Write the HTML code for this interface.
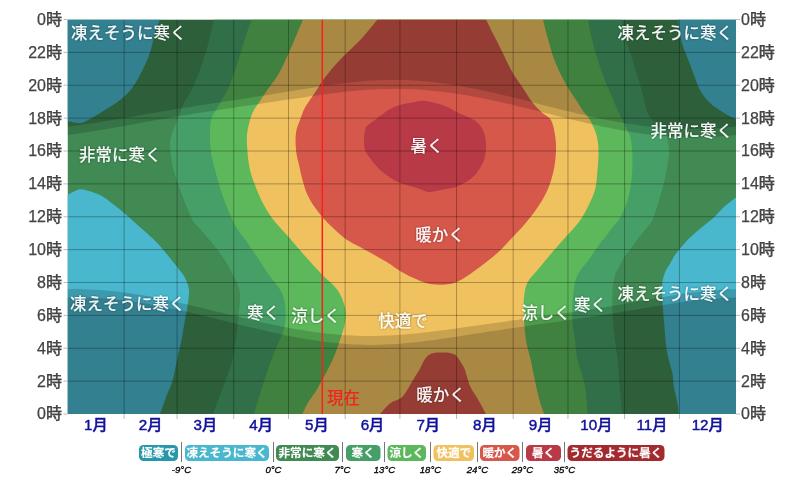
<!DOCTYPE html>
<html lang="ja"><head><meta charset="utf-8"><title>平均時間別気温</title>
<style>html,body{margin:0;padding:0;background:#fff}body{width:800px;height:481px;overflow:hidden}svg{display:block}</style>
</head><body>
<svg width="800" height="481" viewBox="0 0 800 481">
<defs><clipPath id="cp"><rect x="67.5" y="19.5" width="668.5" height="394.5"/></clipPath><filter id="sh" x="-10%" y="-30%" width="120%" height="160%"><feDropShadow dx="0" dy="0" stdDeviation="0.9" flood-color="#000" flood-opacity="0.45"/></filter></defs>
<g clip-path="url(#cp)">
<rect x="67.5" y="19.5" width="668.5" height="394.5" fill="#418a54"/>
<path d="M160.0 19.5C159.2 21.7 156.7 27.0 155.0 32.5C153.3 38.0 152.1 46.2 150.0 52.5C147.9 58.8 145.4 64.2 142.5 70.0C139.6 75.8 136.2 82.5 132.5 87.5C128.8 92.5 124.6 96.2 120.0 100.0C115.4 103.8 109.6 107.1 105.0 110.0C100.4 112.9 96.5 115.3 92.5 117.5C88.5 119.7 85.2 122.4 81.0 123.0C76.8 123.6 69.8 121.3 67.5 121.0L67.5 19.5Z" fill="#49b7cd"/>
<path d="M67.5 195.0C68.8 194.3 72.5 191.9 75.0 191.0C77.5 190.1 78.3 188.8 82.5 189.5C86.7 190.2 95.0 192.6 100.0 195.0C105.0 197.4 108.3 200.6 112.5 203.8C116.7 206.9 120.8 210.2 125.0 213.8C129.2 217.3 133.3 221.3 137.5 225.0C141.7 228.7 146.2 232.5 150.0 236.0C153.8 239.5 156.7 242.3 160.0 246.0C163.3 249.7 167.0 254.3 170.0 258.0C173.0 261.7 175.5 264.7 178.0 268.0C180.5 271.3 183.2 274.3 185.0 278.0C186.8 281.7 188.6 285.3 189.0 290.0C189.4 294.7 188.2 300.6 187.5 306.0C186.8 311.4 185.5 316.8 184.5 322.5C183.5 328.2 182.8 333.8 181.5 340.0C180.2 346.2 178.5 353.2 177.0 360.0C175.5 366.8 174.1 375.4 172.5 381.0C170.9 386.6 169.6 388.0 167.5 393.5C165.4 399.0 161.2 410.6 160.0 414.0L67.5 414.0Z" fill="#49b7cd"/>
<path d="M678.0 19.5C678.7 23.4 680.3 36.4 682.0 43.0C683.7 49.6 686.0 53.7 688.0 59.0C690.0 64.3 692.0 69.8 694.0 75.0C696.0 80.2 697.3 85.3 700.0 90.0C702.7 94.7 705.8 99.1 710.0 103.0C714.2 106.9 720.7 110.8 725.0 113.5C729.3 116.2 734.2 118.1 736.0 119.0L736.0 19.5Z" fill="#49b7cd"/>
<path d="M736.0 197.5C734.2 198.9 728.9 202.5 725.0 206.0C721.1 209.5 716.7 215.0 712.5 218.8C708.3 222.5 704.2 225.2 700.0 228.8C695.8 232.3 690.8 236.7 687.5 240.0C684.2 243.3 682.1 246.2 680.0 248.8C677.9 251.2 676.7 252.5 675.0 255.0C673.3 257.5 671.7 260.8 670.0 263.8C668.3 266.7 666.2 269.6 665.0 272.5C663.8 275.4 663.0 278.1 662.5 281.0C662.0 283.9 662.0 286.4 662.0 290.0C662.0 293.6 662.1 296.2 662.5 302.5C662.9 308.8 663.9 320.4 664.5 327.5C665.1 334.6 665.3 339.6 666.0 345.0C666.7 350.4 667.7 355.2 668.8 360.0C669.8 364.8 671.7 369.2 672.5 373.5C673.3 377.8 672.9 381.0 673.8 386.0C674.6 391.0 676.7 398.8 677.5 403.5C678.3 408.2 678.5 412.2 678.8 414.0L736.0 414.0Z" fill="#49b7cd"/>
<path d="M214.0 19.5C213.0 23.8 210.2 37.1 208.0 45.0C205.8 52.9 203.5 60.0 201.0 67.0C198.5 74.0 195.8 81.0 193.0 87.0C190.2 93.0 186.2 98.7 184.0 103.0C181.8 107.3 181.9 108.1 180.0 113.0C178.1 117.9 174.2 127.2 172.5 132.5C170.8 137.8 170.0 139.6 170.0 145.0C170.0 150.4 171.2 158.8 172.5 165.0C173.8 171.2 175.4 176.2 177.5 182.5C179.6 188.8 182.5 196.2 185.0 202.5C187.5 208.8 190.0 215.6 192.5 220.0C195.0 224.4 197.1 225.6 200.0 229.0C202.9 232.4 207.0 236.9 210.0 240.5C213.0 244.1 215.3 246.9 218.0 250.5C220.7 254.1 223.7 258.2 226.0 262.0C228.3 265.8 230.1 269.3 232.0 273.0C233.9 276.7 236.2 280.5 237.5 284.0C238.8 287.5 239.7 290.3 240.0 294.0C240.3 297.7 239.9 300.7 239.5 306.0C239.1 311.3 238.2 319.5 237.5 326.0C236.8 332.5 235.9 339.0 235.0 345.0C234.1 351.0 234.2 354.5 232.0 362.0C229.8 369.5 225.2 381.3 222.0 390.0C218.8 398.7 214.5 410.0 213.0 414.0L622.0 414.0C621.7 410.0 620.8 399.0 620.0 390.0C619.2 381.0 618.3 368.3 617.5 360.0C616.7 351.7 615.8 347.5 615.0 340.0C614.2 332.5 612.9 323.3 612.5 315.0C612.1 306.7 612.2 295.8 612.5 290.0C612.8 284.2 613.4 282.9 614.0 280.0C614.6 277.1 615.0 275.0 616.0 272.5C617.0 270.0 618.5 267.8 620.0 265.0C621.5 262.2 623.3 258.5 625.0 256.0C626.7 253.5 628.3 252.2 630.0 250.0C631.7 247.8 633.3 244.8 635.0 242.5C636.7 240.2 638.3 238.1 640.0 236.0C641.7 233.9 642.9 232.7 645.0 230.0C647.1 227.3 650.2 225.0 652.5 220.0C654.8 215.0 657.1 206.2 659.0 200.0C660.9 193.8 662.6 188.3 664.0 182.5C665.4 176.7 666.7 170.4 667.5 165.0C668.3 159.6 669.4 155.4 669.0 150.0C668.6 144.6 667.8 137.5 665.0 132.5C662.2 127.5 655.5 123.6 652.5 120.0C649.5 116.4 648.8 115.8 647.0 111.0C645.2 106.2 643.7 97.0 642.0 91.0C640.3 85.0 638.8 81.0 637.0 75.0C635.2 69.0 632.8 60.7 631.0 55.0C629.2 49.3 627.5 46.9 626.0 41.0C624.5 35.1 622.7 23.1 622.0 19.5Z" fill="#469f66"/>
<path d="M252.0 19.5C251.0 22.1 248.0 29.1 246.0 35.0C244.0 40.9 242.0 48.7 240.0 55.0C238.0 61.3 236.0 67.3 234.0 73.0C232.0 78.7 230.3 84.0 228.0 89.0C225.7 94.0 222.0 99.5 220.0 103.0C218.0 106.5 217.5 107.2 216.0 110.0C214.5 112.8 212.0 115.8 211.0 120.0C210.0 124.2 210.0 129.6 210.0 135.0C210.0 140.4 210.2 146.7 211.0 152.5C211.8 158.3 213.5 164.2 215.0 170.0C216.5 175.8 218.2 181.7 220.0 187.5C221.8 193.3 223.9 199.6 226.0 205.0C228.1 210.4 230.5 215.8 232.5 220.0C234.5 224.2 235.8 226.7 238.0 230.0C240.2 233.3 243.0 236.5 245.5 240.0C248.0 243.5 250.4 247.2 253.0 251.0C255.6 254.8 258.3 259.0 261.0 263.0C263.7 267.0 266.0 270.8 269.0 275.0C272.0 279.2 276.6 284.3 279.0 288.0C281.4 291.7 282.4 293.3 283.5 297.0C284.6 300.7 285.3 304.9 285.5 310.0C285.7 315.1 285.8 321.7 284.5 327.5C283.2 333.3 279.8 339.4 277.5 345.0C275.2 350.6 273.5 354.2 271.0 361.0C268.5 367.8 265.3 377.2 262.5 386.0C259.7 394.8 255.4 409.3 254.0 414.0L587.5 414.0C587.1 409.3 586.7 395.0 585.0 386.0C583.3 377.0 579.2 367.7 577.5 360.0C575.8 352.3 575.8 346.2 575.0 340.0C574.2 333.8 572.9 328.8 572.5 322.5C572.1 316.2 572.1 309.2 572.5 302.5C572.9 295.8 573.8 287.8 575.0 282.5C576.2 277.2 578.5 273.8 580.0 271.0C581.5 268.2 582.3 267.8 583.8 266.0C585.2 264.2 587.1 262.2 588.8 260.0C590.4 257.8 592.1 255.0 593.8 252.5C595.4 250.0 596.9 247.5 598.8 245.0C600.6 242.5 602.8 240.3 605.0 237.5C607.2 234.7 609.5 231.2 612.0 228.0C614.5 224.8 617.7 221.8 620.0 218.0C622.3 214.2 624.3 209.7 626.0 205.0C627.7 200.3 629.0 195.0 630.0 190.0C631.0 185.0 631.6 180.4 632.0 175.0C632.4 169.6 632.7 163.3 632.5 157.5C632.3 151.7 632.2 145.4 631.0 140.0C629.8 134.6 627.2 129.8 625.0 125.0C622.8 120.2 620.2 115.7 618.0 111.0C615.8 106.3 614.0 101.7 612.0 97.0C610.0 92.3 608.0 88.0 606.0 83.0C604.0 78.0 601.8 72.3 600.0 67.0C598.2 61.7 596.5 56.3 595.0 51.0C593.5 45.7 592.2 40.2 591.0 35.0C589.8 29.8 588.5 22.1 588.0 19.5Z" fill="#5cb85b"/>
<path d="M303.0 19.5C301.5 23.1 296.8 34.4 294.0 41.0C291.2 47.6 288.7 53.3 286.0 59.0C283.3 64.7 281.0 70.0 278.0 75.0C275.0 80.0 271.0 84.7 268.0 89.0C265.0 93.3 262.3 97.5 260.0 101.0C257.7 104.5 255.7 106.8 254.0 110.0C252.3 113.2 251.2 115.8 250.0 120.0C248.8 124.2 247.4 129.6 247.0 135.0C246.6 140.4 247.0 146.7 247.5 152.5C248.0 158.3 248.8 164.6 250.0 170.0C251.2 175.4 252.9 179.6 255.0 185.0C257.1 190.4 259.4 196.7 262.5 202.5C265.6 208.3 268.9 214.0 273.5 220.0C278.1 226.0 284.8 232.5 290.0 238.5C295.2 244.5 299.6 249.9 305.0 256.0C310.4 262.1 317.1 269.3 322.5 275.0C327.9 280.7 333.8 284.6 337.5 290.0C341.2 295.4 343.8 302.1 345.0 307.5C346.2 312.9 345.8 317.1 345.0 322.5C344.2 327.9 342.1 333.8 340.0 340.0C337.9 346.2 336.2 351.9 332.5 360.0C328.8 368.1 321.7 381.2 317.5 388.5C313.3 395.8 310.0 399.2 307.5 403.5C305.0 407.8 303.3 412.2 302.5 414.0L544.0 414.0C543.2 411.4 540.5 404.0 539.0 398.5C537.5 393.0 536.3 387.2 535.0 381.0C533.7 374.8 532.2 366.6 531.0 361.0C529.8 355.4 528.5 352.2 527.5 347.5C526.5 342.8 525.6 337.9 525.0 332.5C524.4 327.1 524.2 320.8 524.0 315.0C523.8 309.2 523.4 302.9 524.0 297.5C524.6 292.1 525.2 287.1 527.5 282.5C529.8 277.9 533.8 274.6 537.5 270.0C541.2 265.4 545.8 260.0 550.0 255.0C554.2 250.0 558.2 245.4 563.0 240.0C567.8 234.6 574.4 227.9 578.5 222.5C582.6 217.1 584.8 212.9 587.5 207.5C590.2 202.1 593.3 196.2 595.0 190.0C596.7 183.8 596.9 176.7 597.5 170.0C598.1 163.3 598.7 155.8 598.5 150.0C598.3 144.2 597.9 140.0 596.5 135.0C595.1 130.0 592.2 124.0 590.0 120.0C587.8 116.0 585.0 113.8 583.0 111.0C581.0 108.2 580.2 106.3 578.0 103.0C575.8 99.7 572.7 95.3 570.0 91.0C567.3 86.7 564.7 82.3 562.0 77.0C559.3 71.7 556.3 65.3 554.0 59.0C551.7 52.7 549.8 45.6 548.0 39.0C546.2 32.4 543.8 22.8 543.0 19.5Z" fill="#f0c25f"/>
<path d="M377.5 19.5C375.0 22.5 367.1 32.4 362.5 37.5C357.9 42.6 354.2 45.8 350.0 50.0C345.8 54.2 341.7 57.9 337.5 62.5C333.3 67.1 328.8 72.5 325.0 77.5C321.2 82.5 318.3 87.5 315.0 92.5C311.7 97.5 307.5 102.9 305.0 107.5C302.5 112.1 301.5 115.8 300.0 120.0C298.5 124.2 296.7 127.5 296.0 132.5C295.3 137.5 295.5 144.6 296.0 150.0C296.5 155.4 297.9 160.0 299.0 165.0C300.1 170.0 301.1 175.0 302.5 180.0C303.9 185.0 305.4 190.4 307.5 195.0C309.6 199.6 312.1 203.3 315.0 207.5C317.9 211.7 321.0 215.7 325.0 220.0C329.0 224.3 335.0 230.0 339.0 233.5C343.0 237.0 343.8 237.8 349.0 241.0C354.2 244.2 363.6 248.9 370.0 252.5C376.4 256.1 382.5 259.4 387.5 262.5C392.5 265.6 395.8 268.5 400.0 271.0C404.2 273.5 407.5 275.3 412.5 277.5C417.5 279.7 423.8 282.9 430.0 284.0C436.2 285.1 444.2 285.1 450.0 284.0C455.8 282.9 459.6 280.7 465.0 277.5C470.4 274.3 476.9 269.2 482.5 265.0C488.1 260.8 493.9 256.2 498.5 252.0C503.1 247.8 505.8 244.5 510.0 240.0C514.2 235.5 519.4 230.4 524.0 225.0C528.6 219.6 533.6 213.3 537.5 207.5C541.4 201.7 544.8 196.2 547.5 190.0C550.2 183.8 552.3 176.7 553.8 170.0C555.2 163.3 555.8 155.8 556.0 150.0C556.2 144.2 555.8 140.0 555.0 135.0C554.2 130.0 553.1 123.7 551.0 120.0C548.9 116.3 545.6 115.9 542.5 113.0C539.4 110.1 535.8 106.8 532.5 102.5C529.2 98.2 525.8 92.5 522.5 87.5C519.2 82.5 515.8 78.3 512.5 72.5C509.2 66.7 505.4 58.3 502.5 52.5C499.6 46.7 497.8 43.0 495.0 37.5C492.2 32.0 487.5 22.5 486.0 19.5Z" fill="#d5584a"/>
<path d="M380.0 414.0C381.7 412.2 386.7 406.1 390.0 403.5C393.3 400.9 397.5 400.2 400.0 398.5C402.5 396.8 402.9 396.4 405.0 393.5C407.1 390.6 410.0 385.2 412.5 381.0C415.0 376.8 417.9 372.2 420.0 368.5C422.1 364.8 423.2 361.5 425.0 359.0C426.8 356.5 428.5 354.8 431.0 353.8C433.5 352.7 436.8 352.6 440.0 352.5C443.2 352.4 447.3 352.5 450.0 353.0C452.7 353.5 454.2 354.0 456.0 355.6C457.8 357.2 459.5 360.1 461.0 362.5C462.5 364.9 463.5 366.1 465.0 370.0C466.5 373.9 467.9 381.2 470.0 386.0C472.1 390.8 474.8 393.8 477.5 398.5C480.2 403.2 484.6 411.4 486.0 414.0Z" fill="#d5584a"/>
<path d="M375.0 120.0C372.7 121.9 367.8 124.2 366.0 127.5C364.2 130.8 364.2 136.2 364.0 140.0C363.8 143.8 364.0 147.0 365.0 150.0C366.0 153.0 367.8 155.0 370.0 158.0C372.2 161.0 375.0 165.0 378.0 168.0C381.0 171.0 384.7 173.7 388.0 176.0C391.3 178.3 394.3 180.3 398.0 182.0C401.7 183.7 406.3 184.8 410.0 186.0C413.7 187.2 417.0 188.0 420.0 189.0C423.0 190.0 425.3 191.7 428.0 192.0C430.7 192.3 433.0 191.5 436.0 191.0C439.0 190.5 442.7 189.7 446.0 189.0C449.3 188.3 452.7 188.2 456.0 187.0C459.3 185.8 463.0 183.8 466.0 182.0C469.0 180.2 471.7 178.3 474.0 176.0C476.3 173.7 478.3 170.7 480.0 168.0C481.7 165.3 483.0 163.0 484.0 160.0C485.0 157.0 485.7 152.8 486.0 150.0C486.3 147.2 486.3 145.9 486.0 143.0C485.7 140.1 485.4 135.9 484.0 132.5C482.6 129.1 479.8 124.9 477.5 122.5C475.2 120.1 473.3 119.7 470.0 118.0C466.7 116.3 461.7 114.5 457.5 112.5C453.3 110.5 450.4 107.9 445.0 106.0C439.6 104.1 430.4 101.6 425.0 101.0C419.6 100.4 416.7 101.8 412.5 102.5C408.3 103.2 403.8 103.9 400.0 105.0C396.2 106.1 393.3 107.2 390.0 109.0C386.7 110.8 382.5 114.2 380.0 116.0C377.5 117.8 377.3 118.1 375.0 120.0Z" fill="#b93a47"/>
<polygon points="67.5,19.5 67.5,134.9 73.0,134.2 78.5,133.5 83.9,132.7 89.4,131.9 94.9,131.0 100.4,130.1 105.9,129.2 111.3,128.2 116.8,127.2 122.3,126.2 127.8,125.2 133.3,124.2 138.7,123.2 144.2,122.2 149.7,121.2 155.2,120.2 160.7,119.3 166.1,118.3 171.6,117.4 177.1,116.5 182.6,115.6 188.0,114.7 193.5,113.8 199.0,112.9 204.5,112.1 210.0,111.2 215.4,110.4 220.9,109.6 226.4,108.8 231.9,108.0 237.4,107.1 242.8,106.3 248.3,105.5 253.8,104.7 259.3,103.9 264.8,103.1 270.2,102.3 275.7,101.5 281.2,100.6 286.7,99.8 292.2,99.0 297.6,98.2 303.1,97.4 308.6,96.6 314.1,95.8 319.6,95.0 325.0,94.3 330.5,93.6 336.0,92.9 341.5,92.2 347.0,91.6 352.4,91.1 357.9,90.6 363.4,90.1 368.9,89.7 374.4,89.4 379.8,89.1 385.3,89.0 390.8,88.9 396.3,88.8 401.8,88.9 407.2,89.0 412.7,89.2 418.2,89.5 423.7,89.9 429.1,90.4 434.6,90.9 440.1,91.5 445.6,92.2 451.1,92.9 456.5,93.7 462.0,94.6 467.5,95.5 473.0,96.5 478.5,97.5 483.9,98.6 489.4,99.7 494.9,100.9 500.4,102.1 505.9,103.4 511.3,104.6 516.8,105.9 522.3,107.3 527.8,108.6 533.3,110.0 538.7,111.3 544.2,112.7 549.7,114.1 555.2,115.4 560.7,116.8 566.1,118.2 571.6,119.5 577.1,120.8 582.6,122.1 588.1,123.4 593.5,124.6 599.0,125.8 604.5,127.0 610.0,128.1 615.5,129.2 620.9,130.2 626.4,131.2 631.9,132.1 637.4,132.9 642.8,133.7 648.3,134.4 653.8,135.1 659.3,135.6 664.8,136.1 670.2,136.6 675.7,136.9 681.2,137.1 686.7,137.3 692.2,137.4 697.6,137.3 703.1,137.2 708.6,137.0 714.1,136.8 719.6,136.4 725.0,136.0 730.5,135.4 736.0,134.9 736.0,19.5" fill="#000" fill-opacity="0.160"/>
<polygon points="67.5,414.0 67.5,289.2 73.0,289.1 78.5,289.1 83.9,289.2 89.4,289.4 94.9,289.7 100.4,290.1 105.9,290.5 111.3,291.0 116.8,291.6 122.3,292.3 127.8,293.0 133.3,293.8 138.7,294.7 144.2,295.6 149.7,296.6 155.2,297.6 160.7,298.7 166.1,299.8 171.6,301.0 177.1,302.2 182.6,303.4 188.0,304.6 193.5,305.9 199.0,307.2 204.5,308.5 210.0,309.9 215.4,311.2 220.9,312.5 226.4,313.9 231.9,315.2 237.4,316.5 242.8,317.9 248.3,319.1 253.8,320.4 259.3,321.7 264.8,322.9 270.2,324.1 275.7,325.2 281.2,326.4 286.7,327.4 292.2,328.4 297.6,329.4 303.1,330.3 308.6,331.2 314.1,332.0 319.6,332.7 325.0,333.4 330.5,333.9 336.0,334.5 341.5,334.9 347.0,335.3 352.4,335.5 357.9,335.8 363.4,335.9 368.9,335.9 374.4,335.9 379.8,335.8 385.3,335.6 390.8,335.4 396.3,335.0 401.8,334.7 407.2,334.2 412.7,333.7 418.2,333.2 423.7,332.6 429.1,331.9 434.6,331.3 440.1,330.6 445.6,329.9 451.1,329.1 456.5,328.4 462.0,327.6 467.5,326.8 473.0,326.0 478.5,325.3 483.9,324.5 489.4,323.7 494.9,322.9 500.4,322.2 505.9,321.4 511.3,320.6 516.8,319.9 522.3,319.1 527.8,318.4 533.3,317.6 538.7,316.9 544.2,316.1 549.7,315.4 555.2,314.6 560.7,313.8 566.1,313.1 571.6,312.3 577.1,311.5 582.6,310.6 588.1,309.8 593.5,308.9 599.0,308.0 604.5,307.2 610.0,306.2 615.5,305.3 620.9,304.4 626.4,303.4 631.9,302.5 637.4,301.5 642.8,300.5 648.3,299.6 653.8,298.6 659.3,297.7 664.8,296.7 670.2,295.8 675.7,295.0 681.2,294.1 686.7,293.3 692.2,292.6 697.6,291.9 703.1,291.3 708.6,290.8 714.1,290.3 719.6,289.9 725.0,289.6 730.5,289.3 736.0,289.2 736.0,414.0" fill="#000" fill-opacity="0.160"/>
<polygon points="67.5,19.5 67.5,126.5 73.0,125.9 78.5,125.2 83.9,124.5 89.4,123.7 94.9,122.9 100.4,122.0 105.9,121.1 111.3,120.2 116.8,119.3 122.3,118.4 127.8,117.4 133.3,116.5 138.7,115.5 144.2,114.6 149.7,113.6 155.2,112.7 160.7,111.7 166.1,110.8 171.6,109.9 177.1,109.0 182.6,108.1 188.0,107.3 193.5,106.4 199.0,105.5 204.5,104.7 210.0,103.8 215.4,103.0 220.9,102.2 226.4,101.3 231.9,100.5 237.4,99.7 242.8,98.8 248.3,98.0 253.8,97.1 259.3,96.2 264.8,95.4 270.2,94.5 275.7,93.6 281.2,92.7 286.7,91.8 292.2,90.9 297.6,90.0 303.1,89.2 308.6,88.3 314.1,87.4 319.6,86.6 325.0,85.8 330.5,85.0 336.0,84.2 341.5,83.5 347.0,82.8 352.4,82.2 357.9,81.7 363.4,81.2 368.9,80.8 374.4,80.4 379.8,80.2 385.3,80.0 390.8,79.9 396.3,79.9 401.8,80.0 407.2,80.1 412.7,80.4 418.2,80.7 423.7,81.2 429.1,81.7 434.6,82.3 440.1,82.9 445.6,83.7 451.1,84.5 456.5,85.4 462.0,86.3 467.5,87.4 473.0,88.4 478.5,89.5 483.9,90.7 489.4,91.9 494.9,93.1 500.4,94.4 505.9,95.7 511.3,97.0 516.8,98.4 522.3,99.7 527.8,101.1 533.3,102.5 538.7,103.9 544.2,105.3 549.7,106.7 555.2,108.0 560.7,109.4 566.1,110.8 571.6,112.1 577.1,113.4 582.6,114.7 588.1,115.9 593.5,117.1 599.0,118.3 604.5,119.5 610.0,120.5 615.5,121.6 620.9,122.5 626.4,123.5 631.9,124.3 637.4,125.1 642.8,125.9 648.3,126.5 653.8,127.1 659.3,127.6 664.8,128.1 670.2,128.4 675.7,128.7 681.2,128.9 686.7,129.0 692.2,129.1 697.6,129.0 703.1,128.9 708.6,128.7 714.1,128.4 719.6,128.0 725.0,127.6 730.5,127.1 736.0,126.5 736.0,19.5" fill="#000" fill-opacity="0.161"/>
<polygon points="67.5,414.0 67.5,297.5 73.0,297.4 78.5,297.4 83.9,297.4 89.4,297.6 94.9,297.8 100.4,298.1 105.9,298.5 111.3,299.0 116.8,299.5 122.3,300.1 127.8,300.8 133.3,301.6 138.7,302.4 144.2,303.3 149.7,304.2 155.2,305.2 160.7,306.2 166.1,307.3 171.6,308.4 177.1,309.6 182.6,310.8 188.0,312.0 193.5,313.3 199.0,314.6 204.5,315.9 210.0,317.3 215.4,318.6 220.9,320.0 226.4,321.3 231.9,322.7 237.4,324.0 242.8,325.4 248.3,326.7 253.8,328.0 259.3,329.3 264.8,330.6 270.2,331.9 275.7,333.1 281.2,334.3 286.7,335.4 292.2,336.5 297.6,337.5 303.1,338.5 308.6,339.5 314.1,340.3 319.6,341.1 325.0,341.9 330.5,342.5 336.0,343.1 341.5,343.6 347.0,344.1 352.4,344.4 357.9,344.6 363.4,344.8 368.9,344.9 374.4,344.9 379.8,344.8 385.3,344.6 390.8,344.3 396.3,344.0 401.8,343.6 407.2,343.1 412.7,342.6 418.2,342.0 423.7,341.3 429.1,340.6 434.6,339.9 440.1,339.1 445.6,338.3 451.1,337.5 456.5,336.7 462.0,335.8 467.5,335.0 473.0,334.1 478.5,333.3 483.9,332.4 489.4,331.6 494.9,330.7 500.4,329.9 505.9,329.1 511.3,328.3 516.8,327.5 522.3,326.7 527.8,325.9 533.3,325.1 538.7,324.3 544.2,323.6 549.7,322.8 555.2,322.0 560.7,321.2 566.1,320.4 571.6,319.6 577.1,318.8 582.6,318.0 588.1,317.2 593.5,316.4 599.0,315.5 604.5,314.7 610.0,313.8 615.5,312.9 620.9,312.0 626.4,311.1 631.9,310.2 637.4,309.3 642.8,308.4 648.3,307.5 653.8,306.6 659.3,305.7 664.8,304.8 670.2,303.9 675.7,303.1 681.2,302.3 686.7,301.6 692.2,300.9 697.6,300.2 703.1,299.6 708.6,299.1 714.1,298.6 719.6,298.2 725.0,297.9 730.5,297.7 736.0,297.5 736.0,414.0" fill="#000" fill-opacity="0.161"/>
<path d="M124.12 19.5V414.0M177.09 19.5V414.0M233.71 19.5V414.0M288.51 19.5V414.0M345.13 19.5V414.0M399.92 19.5V414.0M456.55 19.5V414.0M513.17 19.5V414.0M567.96 19.5V414.0M624.58 19.5V414.0M679.38 19.5V414.0M67.5 381.12H736.0M67.5 348.25H736.0M67.5 315.38H736.0M67.5 282.50H736.0M67.5 249.62H736.0M67.5 216.75H736.0M67.5 183.88H736.0M67.5 151.00H736.0M67.5 118.12H736.0M67.5 85.25H736.0M67.5 52.38H736.0" stroke="#000" stroke-opacity="0.29" stroke-width="1" fill="none"/>
<path d="M322.3 19.5V414.0" stroke="#f8221c" stroke-width="1.5" fill="none"/>
</g>
<path d="M63.5 414.0H67.5M736.0 414.0H740.0M63.5 381.1H67.5M736.0 381.1H740.0M63.5 348.2H67.5M736.0 348.2H740.0M63.5 315.4H67.5M736.0 315.4H740.0M63.5 282.5H67.5M736.0 282.5H740.0M63.5 249.6H67.5M736.0 249.6H740.0M63.5 216.8H67.5M736.0 216.8H740.0M63.5 183.9H67.5M736.0 183.9H740.0M63.5 151.0H67.5M736.0 151.0H740.0M63.5 118.1H67.5M736.0 118.1H740.0M63.5 85.2H67.5M736.0 85.2H740.0M63.5 52.4H67.5M736.0 52.4H740.0M63.5 19.5H67.5M736.0 19.5H740.0M124.12 414.0V419.0M177.09 414.0V419.0M233.71 414.0V419.0M288.51 414.0V419.0M345.13 414.0V419.0M399.92 414.0V419.0M456.55 414.0V419.0M513.17 414.0V419.0M567.96 414.0V419.0M624.58 414.0V419.0M679.38 414.0V419.0" stroke="#bbb" stroke-width="1" fill="none"/>
<g font-family="'Liberation Sans','Noto Sans CJK JP',sans-serif" font-size="16" font-weight="500" fill="#444" stroke="#444" stroke-width="0.25">
<text x="62.0" y="419.4" text-anchor="end">0時</text>
<text x="741.0" y="419.4">0時</text>
<text x="62.0" y="386.5" text-anchor="end">2時</text>
<text x="741.0" y="386.5">2時</text>
<text x="62.0" y="353.6" text-anchor="end">4時</text>
<text x="741.0" y="353.6">4時</text>
<text x="62.0" y="320.8" text-anchor="end">6時</text>
<text x="741.0" y="320.8">6時</text>
<text x="62.0" y="287.9" text-anchor="end">8時</text>
<text x="741.0" y="287.9">8時</text>
<text x="62.0" y="255.0" text-anchor="end">10時</text>
<text x="741.0" y="255.0">10時</text>
<text x="62.0" y="222.2" text-anchor="end">12時</text>
<text x="741.0" y="222.2">12時</text>
<text x="62.0" y="189.3" text-anchor="end">14時</text>
<text x="741.0" y="189.3">14時</text>
<text x="62.0" y="156.4" text-anchor="end">16時</text>
<text x="741.0" y="156.4">16時</text>
<text x="62.0" y="123.5" text-anchor="end">18時</text>
<text x="741.0" y="123.5">18時</text>
<text x="62.0" y="90.7" text-anchor="end">20時</text>
<text x="741.0" y="90.7">20時</text>
<text x="62.0" y="57.8" text-anchor="end">22時</text>
<text x="741.0" y="57.8">22時</text>
<text x="62.0" y="24.9" text-anchor="end">0時</text>
<text x="741.0" y="24.9">0時</text>
</g>
<g font-family="'Liberation Sans','Noto Sans CJK JP',sans-serif" font-size="15.2" font-weight="500" fill="#10109a" stroke="#10109a" stroke-width="0.45" text-anchor="middle">
<text x="95.8" y="430">1月</text>
<text x="150.6" y="430">2月</text>
<text x="205.4" y="430">3月</text>
<text x="261.1" y="430">4月</text>
<text x="316.8" y="430">5月</text>
<text x="372.5" y="430">6月</text>
<text x="428.2" y="430">7月</text>
<text x="484.9" y="430">8月</text>
<text x="540.6" y="430">9月</text>
<text x="596.3" y="430">10月</text>
<text x="652.0" y="430">11月</text>
<text x="707.7" y="430">12月</text>
</g>
<g font-family="'Liberation Sans','Noto Sans CJK JP',sans-serif" font-size="16.5" font-weight="500" fill="#fff" fill-opacity="0.93" filter="url(#sh)">
<text x="71.0" y="39.0" text-anchor="start">凍えそうに寒く</text>
<text x="733.0" y="39.0" text-anchor="end">凍えそうに寒く</text>
<text x="79.0" y="161.0" text-anchor="start">非常に寒く</text>
<text x="733.0" y="137.0" text-anchor="end">非常に寒く</text>
<text x="70.0" y="310.0" text-anchor="start">凍えそうに寒く</text>
<text x="733.0" y="300.0" text-anchor="end">凍えそうに寒く</text>
<text x="263.5" y="319.0" text-anchor="middle">寒く</text>
<text x="316.0" y="322.0" text-anchor="middle">涼しく</text>
<text x="403.0" y="327.0" text-anchor="middle">快適で</text>
<text x="427.0" y="152.0" text-anchor="middle">暑く</text>
<text x="440.0" y="241.3" text-anchor="middle">暖かく</text>
<text x="441.0" y="401.0" text-anchor="middle">暖かく</text>
<text x="546.0" y="319.0" text-anchor="middle">涼しく</text>
<text x="590.5" y="311.0" text-anchor="middle">寒く</text>
</g>
<text x="327" y="404" font-family="'Liberation Sans','Noto Sans CJK JP',sans-serif" font-size="16.5" font-weight="500" fill="#ee2420">現在</text>
<g font-family="'Liberation Sans','Noto Sans CJK JP',sans-serif" font-size="11.6" font-weight="700" fill="#fff" stroke="#fff" stroke-width="0.15" text-anchor="middle">
<rect x="139.0" y="445" width="39.0" height="16" rx="4.5" stroke="none" fill="#2797ab"/>
<text x="158.5" y="457.4">極寒で</text>
<rect x="185.0" y="445" width="84.0" height="16" rx="4.5" stroke="none" fill="#49b7cd"/>
<text x="227.0" y="457.4">凍えそうに寒く</text>
<rect x="276.0" y="445" width="63.0" height="16" rx="4.5" stroke="none" fill="#418a54"/>
<text x="307.5" y="457.4">非常に寒く</text>
<rect x="346.0" y="445" width="34.5" height="16" rx="4.5" stroke="none" fill="#469f66"/>
<text x="363.2" y="457.4">寒く</text>
<rect x="387.5" y="445" width="38.5" height="16" rx="4.5" stroke="none" fill="#5cb85b"/>
<text x="406.8" y="457.4">涼しく</text>
<rect x="433.5" y="445" width="40.5" height="16" rx="4.5" stroke="none" fill="#f0c25f"/>
<text x="453.8" y="457.4">快適で</text>
<rect x="480.0" y="445" width="39.5" height="16" rx="4.5" stroke="none" fill="#d5584a"/>
<text x="499.8" y="457.4">暖かく</text>
<rect x="526.0" y="445" width="35.0" height="16" rx="4.5" stroke="none" fill="#b93a47"/>
<text x="543.5" y="457.4">暑く</text>
<rect x="567.5" y="445" width="97.0" height="16" rx="4.5" stroke="none" fill="#a32a2f"/>
<text x="616.0" y="457.4">うだるように暑く</text>
</g>
<g font-family="'Liberation Sans',sans-serif" font-size="9.6" font-style="italic" fill="#000" stroke="#000" stroke-width="0.3" text-anchor="middle">
<path d="M181.5 442V462" stroke="#777" stroke-width="1"/>
<text x="181.5" y="472.8">-9°C</text>
<path d="M273.5 442V462" stroke="#777" stroke-width="1"/>
<text x="273.5" y="472.8">0°C</text>
<path d="M342.5 442V462" stroke="#777" stroke-width="1"/>
<text x="342.5" y="472.8">7°C</text>
<path d="M384.5 442V462" stroke="#777" stroke-width="1"/>
<text x="384.5" y="472.8">13°C</text>
<path d="M430.5 442V462" stroke="#777" stroke-width="1"/>
<text x="430.5" y="472.8">18°C</text>
<path d="M477.5 442V462" stroke="#777" stroke-width="1"/>
<text x="477.5" y="472.8">24°C</text>
<path d="M522.5 442V462" stroke="#777" stroke-width="1"/>
<text x="522.5" y="472.8">29°C</text>
<path d="M564.5 442V462" stroke="#777" stroke-width="1"/>
<text x="564.5" y="472.8">35°C</text>
</g>
</svg>
</body></html>
